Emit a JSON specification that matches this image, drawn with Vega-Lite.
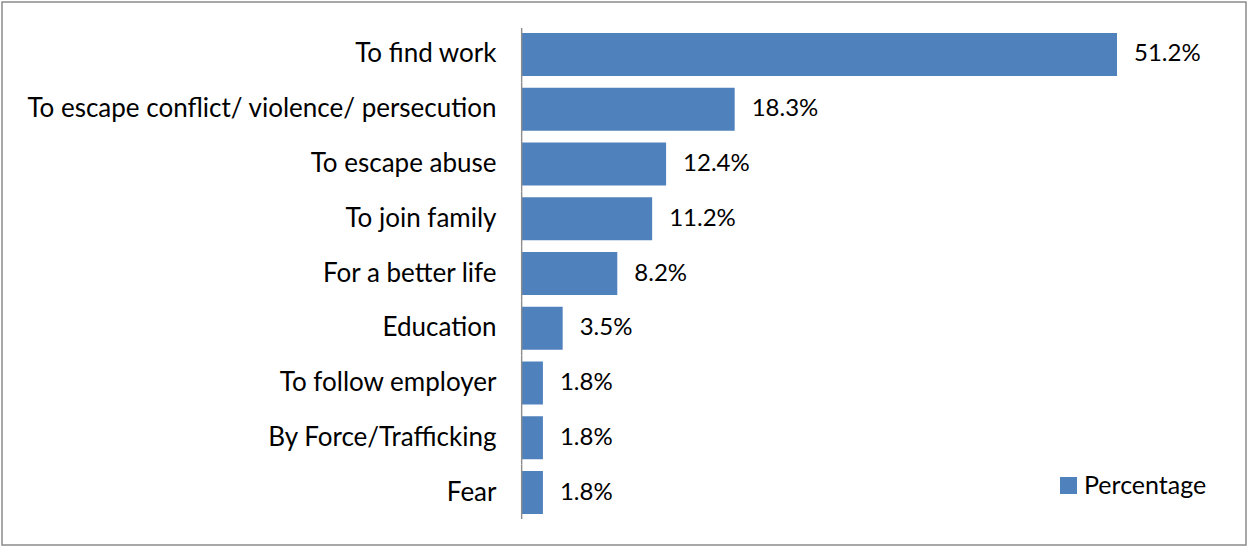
{
  "$schema": "https://vega.github.io/schema/vega-lite/v6.json",
  "width": 1244,
  "height": 543,
  "padding": {"left": 2, "top": 2, "right": 4, "bottom": 3},
  "autosize": {"type": "none"},
  "background": "white",
  "config": {
    "view": {"stroke": "#8c8c8c", "strokeWidth": 1.5},
    "font": "Lato"
  },
  "data": {
    "values": [
      {"reason": "To find work", "share": 0.512},
      {"reason": "To escape conflict/ violence/ persecution", "share": 0.183},
      {"reason": "To escape abuse", "share": 0.124},
      {"reason": "To join family", "share": 0.112},
      {"reason": "For a better life", "share": 0.082},
      {"reason": "Education", "share": 0.035},
      {"reason": "To follow employer", "share": 0.018},
      {"reason": "By Force/Trafficking", "share": 0.018},
      {"reason": "Fear", "share": 0.018}
    ]
  },
  "resolve": {"scale": {"y": "independent"}},
  "layer": [
    {
      "encoding": {
        "y": {
          "field": "reason", "type": "nominal", "sort": null,
          "scale": {"paddingInner": 0.215, "paddingOuter": 0.566}
        },
        "x": {
          "field": "share", "type": "quantitative",
          "scale": {"domain": [-0.44746, 0.6230], "nice": false, "zero": false},
          "axis": null
        }
      },
      "layer": [
        {
          "mark": {"type": "bar", "color": "#4F81BD"},
          "encoding": {
            "y": {
              "field": "reason", "type": "nominal", "sort": null,
              "scale": {"paddingInner": 0.215, "paddingOuter": 0.566},
              "axis": {
                "title": null, "domain": false, "ticks": false, "tickSize": 0,
                "labelPadding": 26, "offset": -520, "labelFontSize": 26,
                "labelFont": "Lato", "labelColor": "#000000", "labelLimit": 0
              }
            },
            "color": {
              "datum": "Percentage", "type": "nominal",
              "scale": {"range": ["#4F81BD"]},
              "legend": {
                "title": null, "orient": "none", "legendX": 1054, "legendY": 471,
                "symbolType": "square", "symbolSize": 289, "symbolStrokeWidth": 0,
                "labelFontSize": 25, "labelFont": "Lato", "labelColor": "#000000",
                "labelOffset": 3, "padding": 0
              }
            }
          }
        },
        {
          "mark": {"type": "text", "align": "left", "baseline": "middle", "dx": 17, "fontSize": 24, "color": "#000000"},
          "encoding": {
            "text": {"field": "share", "type": "quantitative", "format": ".1%"}
          }
        }
      ]
    },
    {
      "mark": {"type": "bar", "color": "#8c8c8c"},
      "encoding": {
        "y": {
          "field": "reason", "type": "nominal", "sort": null,
          "scale": {"paddingInner": 0, "paddingOuter": 0.476},
          "axis": null
        },
        "x": {"datum": -0.0009, "type": "quantitative"},
        "x2": {"datum": 0.0003}
      }
    }
  ]
}
